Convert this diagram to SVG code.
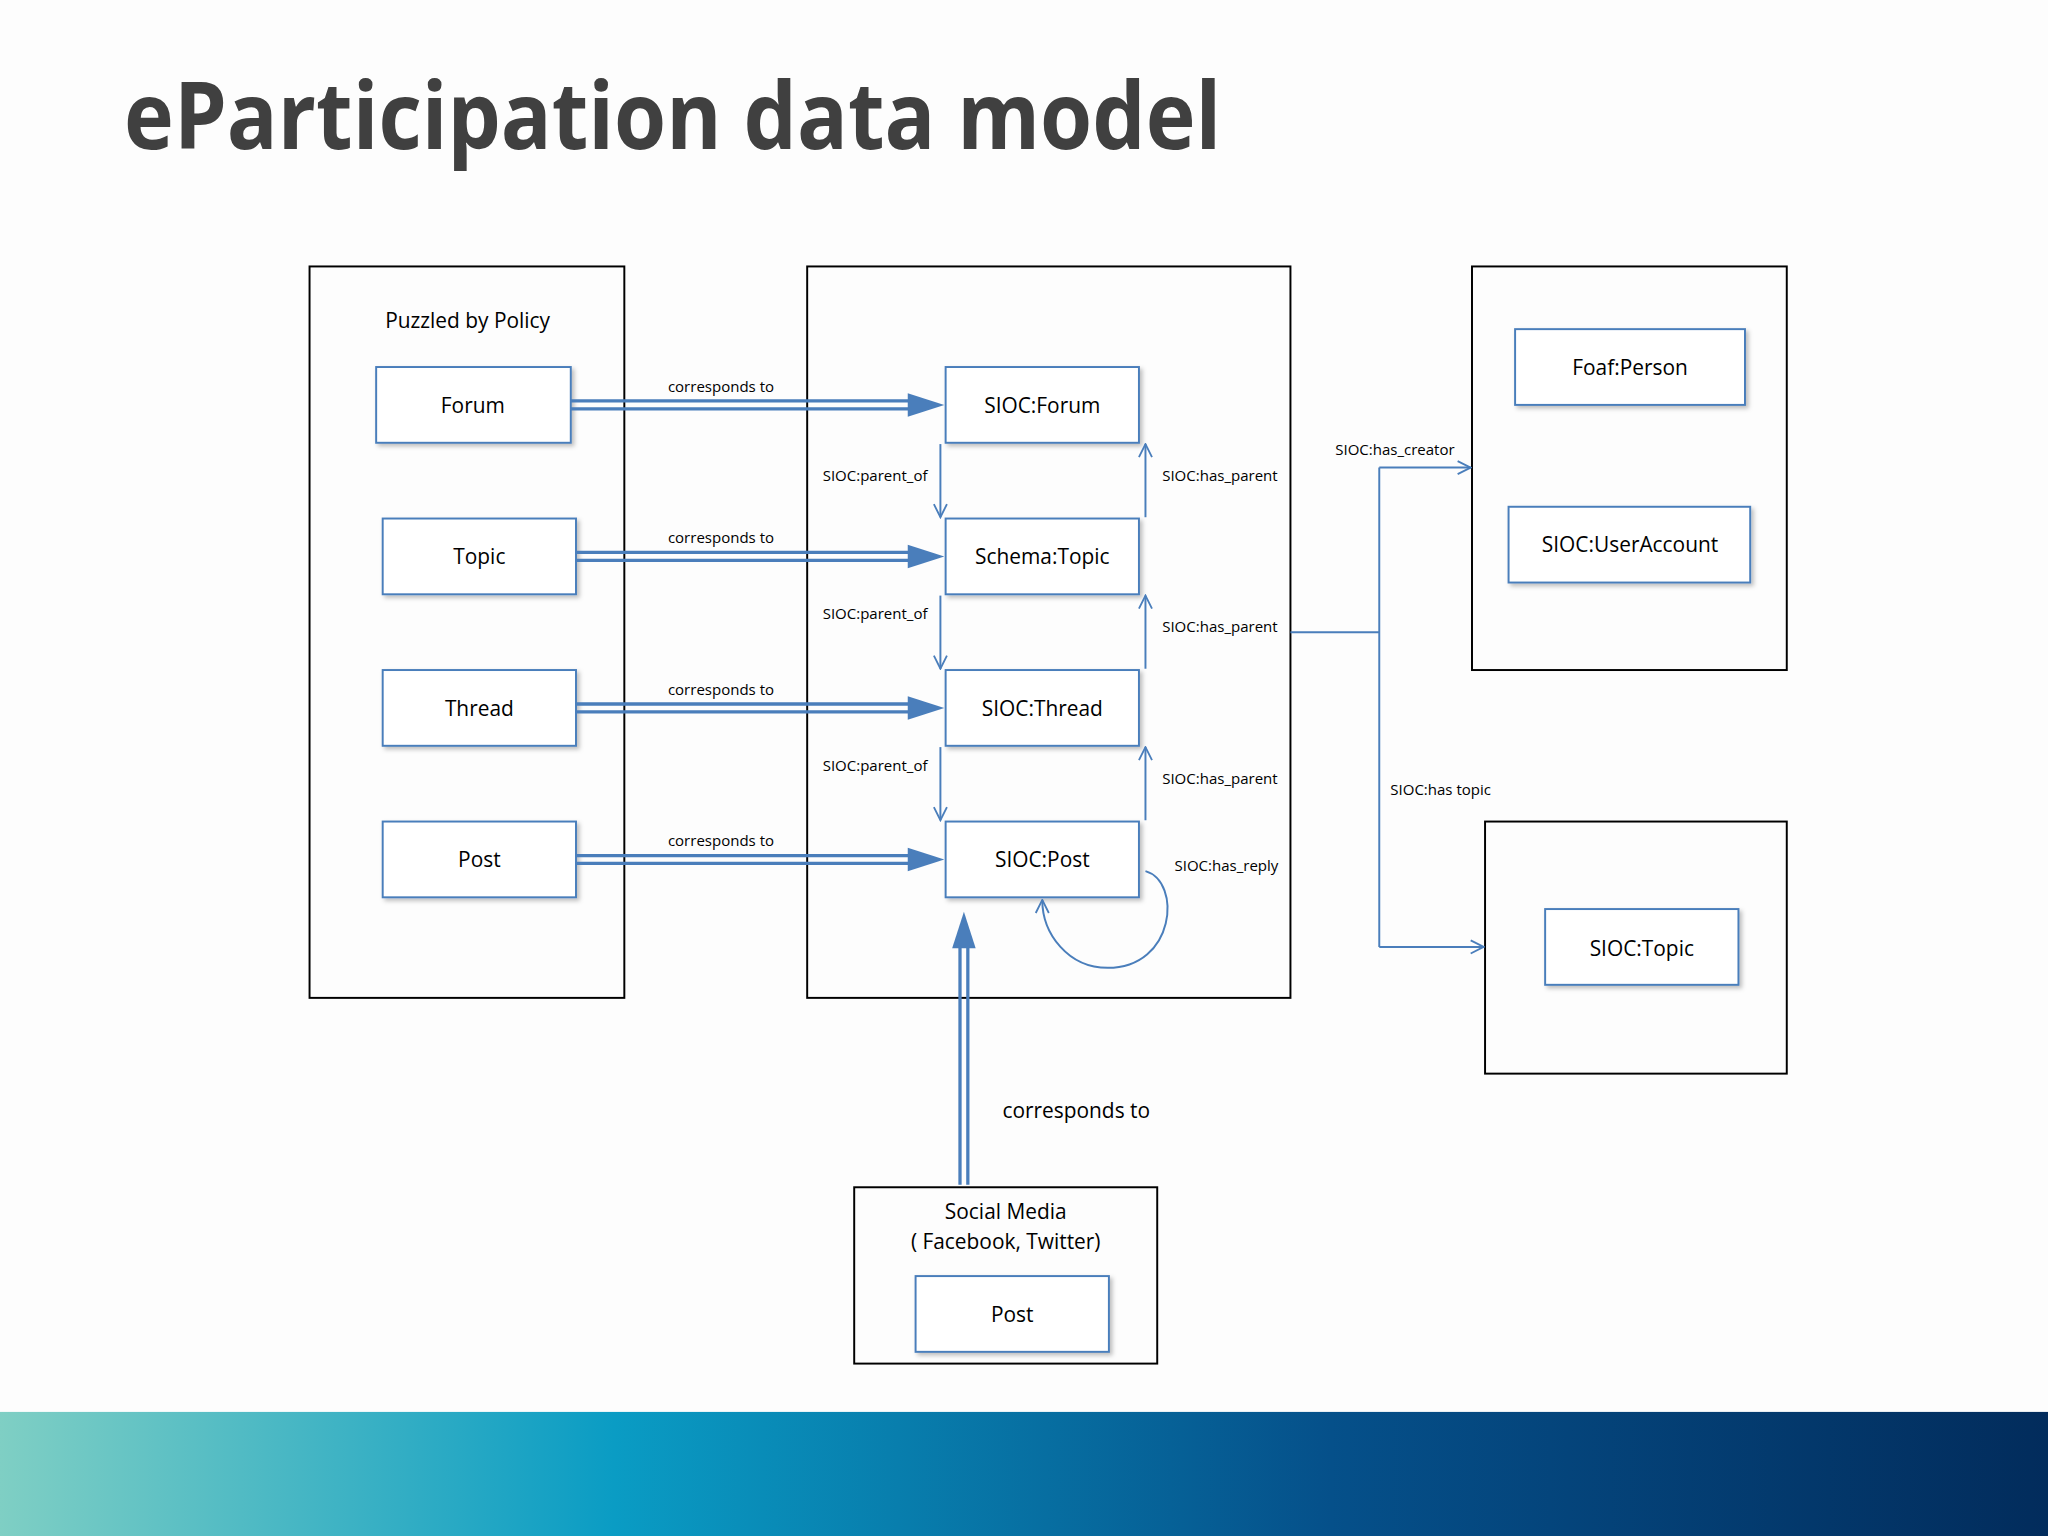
<svg xmlns="http://www.w3.org/2000/svg" width="2048" height="1536" viewBox="0 0 2048 1536">
<defs>
<linearGradient id="band" x1="0" y1="0" x2="1" y2="0">
<stop offset="0" stop-color="#7fcfc4"/><stop offset="0.3" stop-color="#0a9cc4"/><stop offset="0.65" stop-color="#05508a"/><stop offset="1" stop-color="#022c5c"/>
</linearGradient>
<marker id="open" viewBox="0 0 12 12" refX="11" refY="6" markerWidth="12" markerHeight="12" markerUnits="userSpaceOnUse" orient="auto"><path d="M1,1 L11,6 L1,11" fill="none" stroke="#4a7ebb" stroke-width="1.4"/></marker>
<filter id="sh" x="-10%" y="-10%" width="130%" height="130%"><feDropShadow dx="2" dy="2" stdDeviation="1.5" flood-color="#000" flood-opacity="0.25"/></filter>
</defs>
<style>
.cont{fill:none;stroke:#000;stroke-width:1.5}
.box{fill:#fff;stroke:#4a7ebb;stroke-width:1.5;filter:url(#sh)}
.t{font-family:"Open Sans","DejaVu Sans",sans-serif;font-size:16px;fill:#000;text-anchor:middle}
.s{font-family:"Open Sans","DejaVu Sans",sans-serif;font-size:11.5px;fill:#000;text-anchor:middle}
.ln{fill:none;stroke:#4a7ebb;stroke-width:1.5}
.dbl{fill:none;stroke:#4a7ebb;stroke-width:2.5}
.head{fill:#4a7ebb}
</style>
<rect width="2048" height="1536" fill="#fdfdfd"/>
<g transform="scale(1.30612)">
<text x="95" y="114" font-family="'Open Sans','DejaVu Sans',sans-serif" font-weight="bold" font-size="72" fill="#404040" textLength="840" lengthAdjust="spacingAndGlyphs">eParticipation data model</text>
<rect x="0" y="1081" width="1568" height="95" fill="url(#band)"/>

<g id="policy"><rect class="cont" x="237" y="204" width="241" height="560"/><text class="t" x="358" y="251">Puzzled by Policy</text></g>
<g id="forum"><rect class="box" x="288" y="281" width="149" height="58"/><text class="t" x="362" y="316">Forum</text></g>
<g id="topic"><rect class="box" x="293" y="397" width="148" height="58"/><text class="t" x="367" y="432">Topic</text></g>
<g id="thread"><rect class="box" x="293" y="513" width="148" height="58"/><text class="t" x="367" y="548">Thread</text></g>
<g id="post"><rect class="box" x="293" y="629" width="148" height="58"/><text class="t" x="367" y="664">Post</text></g>

<g id="sioc"><rect class="cont" x="618" y="204" width="370" height="560"/></g>
<g id="siocforum"><rect class="box" x="724" y="281" width="148" height="58"/><text class="t" x="798" y="316">SIOC:Forum</text></g>
<g id="schematopic"><rect class="box" x="724" y="397" width="148" height="58"/><text class="t" x="798" y="432">Schema:Topic</text></g>
<g id="siocthread"><rect class="box" x="724" y="513" width="148" height="58"/><text class="t" x="798" y="548">SIOC:Thread</text></g>
<g id="siocpost"><rect class="box" x="724" y="629" width="148" height="58"/><text class="t" x="798" y="664">SIOC:Post</text></g>

<g id="agents"><rect class="cont" x="1127" y="204" width="241" height="309"/></g>
<g id="foaf"><rect class="box" x="1160" y="252" width="176" height="58"/><text class="t" x="1248" y="287">Foaf:Person</text></g>
<g id="useraccount"><rect class="box" x="1155" y="388" width="185" height="58"/><text class="t" x="1248" y="423">SIOC:UserAccount</text></g>
<g id="topics"><rect class="cont" x="1137" y="629" width="231" height="193"/></g>
<g id="sioctopic"><rect class="box" x="1183" y="696" width="148" height="58"/><text class="t" x="1257" y="732">SIOC:Topic</text></g>

<g id="social"><rect class="cont" x="654" y="909" width="232" height="135"/><text class="t" x="770" y="933">Social Media</text><text class="t" x="770" y="956">( Facebook, Twitter)</text></g>
<g id="smpost"><rect class="box" x="701" y="977" width="148" height="58"/><text class="t" x="775" y="1012">Post</text></g>

<g id="connectors">
<g id="corr">
<path class="dbl" d="M437 307H697M437 313H697"/><path class="head" d="M695 301L723 310L695 319Z"/>
<path class="dbl" d="M441 423H697M441 429H697"/><path class="head" d="M695 417L723 426L695 435Z"/>
<path class="dbl" d="M441 539H697M441 545H697"/><path class="head" d="M695 533L723 542L695 551Z"/>
<path class="dbl" d="M441 655H697M441 661H697"/><path class="head" d="M695 649L723 658L695 667Z"/>
<text class="s" x="552" y="300">corresponds to</text>
<text class="s" x="552" y="416">corresponds to</text>
<text class="s" x="552" y="532">corresponds to</text>
<text class="s" x="552" y="648">corresponds to</text>
<path class="dbl" d="M735 907V722M741 907V722"/><path class="head" d="M729 726L738 698L747 726Z"/>
<text class="t" x="824" y="856">corresponds to</text>
</g>
<path class="ln" marker-end="url(#open)" d="M720 340V396"/>
<path class="ln" marker-end="url(#open)" d="M720 456V512"/>
<path class="ln" marker-end="url(#open)" d="M720 572V628"/>
<path class="ln" marker-end="url(#open)" d="M877 396V340"/>
<path class="ln" marker-end="url(#open)" d="M877 512V456"/>
<path class="ln" marker-end="url(#open)" d="M877 628V572"/>
<text class="s" x="670" y="368">SIOC:parent_of</text>
<text class="s" x="670" y="474">SIOC:parent_of</text>
<text class="s" x="670" y="590">SIOC:parent_of</text>
<text class="s" x="934" y="368">SIOC:has_parent</text>
<text class="s" x="934" y="484">SIOC:has_parent</text>
<text class="s" x="934" y="600">SIOC:has_parent</text>
<path class="ln" marker-end="url(#open)" d="M877 667C905 675 900 741 848 741C818 741 798 715 798 689"/>
<text class="s" x="939" y="667">SIOC:has_reply</text>
<path class="ln" d="M988 484H1056M1056 358V725"/>
<path class="ln" marker-end="url(#open)" d="M1056 358H1126"/>
<path class="ln" marker-end="url(#open)" d="M1056 725H1136"/>
<text class="s" x="1068" y="348">SIOC:has_creator</text>
<text class="s" x="1103" y="609">SIOC:has topic</text>
</g>
</g>
</svg>
